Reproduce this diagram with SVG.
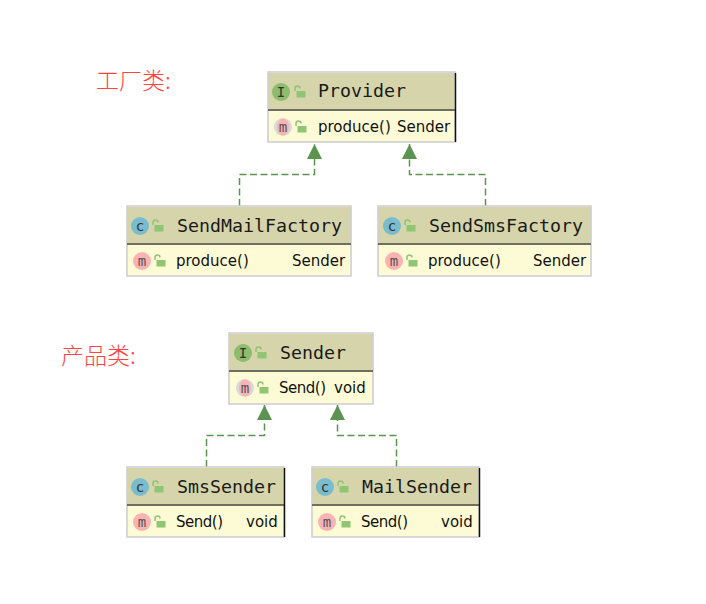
<svg xmlns="http://www.w3.org/2000/svg" width="706" height="604" viewBox="0 0 706 604">
<style>
.head{fill:#d5d4aa}.body{fill:#fdfbd5}.frame{fill:none;stroke:#cfcfcf;stroke-width:1.6}
.sep{stroke:#6f6f60;stroke-width:2}
.title{font:18.3px "DejaVu Sans Mono",monospace;fill:#1a1a1a}
.mem{font:15px "DejaVu Sans",sans-serif;fill:#111}
.icon{font:14px "DejaVu Sans Mono",monospace;text-anchor:middle}
.i{fill:#8cbc6c}.c{fill:#79bccd}.m{fill:#f9b3b3}
.lock{fill:#8fc573}.shackle{fill:none;stroke:#8fc573;stroke-width:1.5}
.edge{fill:none;stroke:#5b9350;stroke-width:1.5;stroke-dasharray:7 3.500}
.label{font:23px "Noto Sans CJK SC",sans-serif;fill:#f44;font-weight:300}
.darkedge{stroke:#111;stroke-width:1.5}
</style>
<defs>
<marker id="arrow" markerUnits="userSpaceOnUse" markerWidth="16" markerHeight="16" refX="15" refY="7.500" orient="auto"><path d="M0 0L15 7.500L0 15Z" fill="#5b9350"/></marker>
<g id="lk"><rect x="-4.500" y="-1" width="9" height="6.500" class="lock"/><path d="M-6 -1v-2.500a2.500 2.500 0 0 1 5 0" class="shackle"/></g>
</defs>
<text class="label" x="96" y="89">工厂类:</text>
<text class="label" x="61" y="364">产品类:</text>
<g id="connectors">
<path class="edge" d="M239.500 206V174.500H314.500V144" marker-end="url(#arrow)"/>
<path class="edge" d="M485.500 206V174.500H409.500V144" marker-end="url(#arrow)"/>
<path class="edge" d="M206.500 467V435.500H264.500V405" marker-end="url(#arrow)"/>
<path class="edge" d="M396.500 467V435.500H337.500V405" marker-end="url(#arrow)"/>
</g>
<g id="Provider">
<rect x="268" y="73" width="187" height="36" class="head"/><rect x="268" y="110" width="187" height="32" class="body"/>
<rect x="268" y="72" width="187" height="70" class="frame"/><path d="M268 110H455" class="sep"/><path d="M455.500 73V142" class="darkedge"/>
<circle cx="281" cy="92" r="9" class="i"/><text x="281" y="96.500" class="icon" fill="#333">I</text><use href="#lk" x="301" y="92"/>
<text x="318" y="97" class="title">Provider</text>
<circle cx="283" cy="127" r="9" fill="#d9d9d9"/><ellipse cx="283" cy="127" rx="6" ry="8.500" class="m"/><text x="283" y="131.500" class="icon" fill="#555">m</text><use href="#lk" x="302" y="127"/>
<text x="318" y="132" class="mem">produce()</text><text x="397" y="132" class="mem">Sender</text>
</g>
<g id="SendMailFactory">
<rect x="127" y="207" width="224" height="36" class="head"/><rect x="127" y="245" width="224" height="30" class="body"/>
<rect x="127" y="206" width="224" height="70" class="frame"/><path d="M127 244H351" class="sep"/>
<circle cx="140" cy="226" r="9" class="c"/><text x="140" y="230.500" class="icon" fill="#333">c</text><use href="#lk" x="159" y="226"/>
<text x="177" y="232" class="title">SendMailFactory</text>
<circle cx="142" cy="261" r="9" class="m"/><text x="142" y="265.500" class="icon" fill="#555">m</text><use href="#lk" x="161" y="261"/>
<text x="176" y="266" class="mem">produce()</text><text x="292" y="266" class="mem">Sender</text>
</g>
<g id="SendSmsFactory">
<rect x="378" y="207" width="213" height="36" class="head"/><rect x="378" y="245" width="213" height="30" class="body"/>
<rect x="378" y="206" width="213" height="70" class="frame"/><path d="M378 244H591" class="sep"/>
<circle cx="392" cy="226" r="9" class="c"/><text x="392" y="230.500" class="icon" fill="#333">c</text><use href="#lk" x="411" y="226"/>
<text x="429" y="232" class="title">SendSmsFactory</text>
<circle cx="394" cy="261" r="9" class="m"/><text x="394" y="265.500" class="icon" fill="#555">m</text><use href="#lk" x="413" y="261"/>
<text x="428" y="266" class="mem">produce()</text><text x="533" y="266" class="mem">Sender</text>
</g>
<g id="Sender">
<rect x="229" y="334" width="144" height="36" class="head"/><rect x="229" y="372" width="144" height="31" class="body"/>
<rect x="229" y="333" width="144" height="71" class="frame"/><path d="M229 371H373" class="sep"/>
<circle cx="243" cy="353" r="9" class="i"/><text x="243" y="357.500" class="icon" fill="#333">I</text><use href="#lk" x="262" y="353"/>
<text x="280" y="359" class="title">Sender</text>
<circle cx="245" cy="388" r="9" fill="#d9d9d9"/><ellipse cx="245" cy="388" rx="6" ry="8.500" class="m"/><text x="245" y="392.500" class="icon" fill="#555">m</text><use href="#lk" x="264" y="388"/>
<text x="279" y="393" class="mem" textLength="47">Send()</text><text x="334" y="393" class="mem">void</text>
</g>
<g id="SmsSender">
<rect x="127" y="468" width="157" height="36" class="head"/><rect x="127" y="506" width="157" height="30" class="body"/>
<rect x="127" y="467" width="157" height="70" class="frame"/><path d="M127 505H284" class="sep"/><path d="M284.500 468V537" class="darkedge"/>
<circle cx="140" cy="487" r="9" class="c"/><text x="140" y="491.500" class="icon" fill="#333">c</text><use href="#lk" x="159" y="487"/>
<text x="177" y="493" class="title">SmsSender</text>
<circle cx="142" cy="522" r="9" class="m"/><text x="142" y="526.500" class="icon" fill="#555">m</text><use href="#lk" x="161" y="522"/>
<text x="176" y="527" class="mem" textLength="47">Send()</text><text x="246" y="527" class="mem">void</text>
</g>
<g id="MailSender">
<rect x="312" y="468" width="167" height="36" class="head"/><rect x="312" y="506" width="167" height="30" class="body"/>
<rect x="312" y="467" width="167" height="70" class="frame"/><path d="M312 505H479" class="sep"/><path d="M479.500 468V537" class="darkedge"/>
<circle cx="325" cy="487" r="9" class="c"/><text x="325" y="491.500" class="icon" fill="#333">c</text><use href="#lk" x="344" y="487"/>
<text x="362" y="493" class="title">MailSender</text>
<circle cx="327" cy="522" r="9" class="m"/><text x="327" y="526.500" class="icon" fill="#555">m</text><use href="#lk" x="346" y="522"/>
<text x="361" y="527" class="mem" textLength="47">Send()</text><text x="441" y="527" class="mem">void</text>
</g>
</svg>
